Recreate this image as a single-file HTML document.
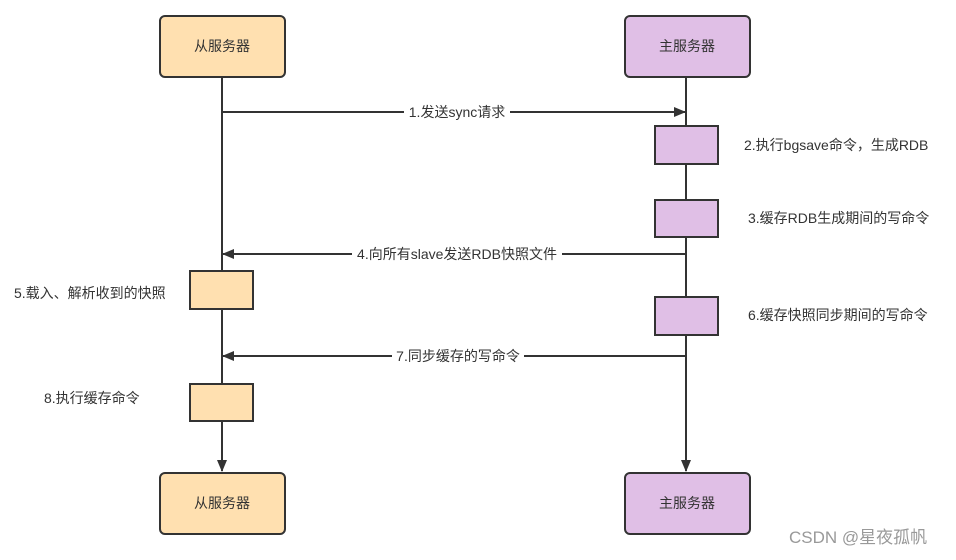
<!DOCTYPE html>
<html><head><meta charset="utf-8"><style>
body{margin:0;background:#fff;width:956px;height:555px;overflow:hidden}
svg text{font-family:"Liberation Sans","Noto Sans CJK SC",sans-serif;font-size:14px;fill:#333}
</style></head><body>
<svg width="956" height="555" xmlns="http://www.w3.org/2000/svg">
<defs><marker id="a" markerWidth="12" markerHeight="10" refX="11" refY="5" orient="auto" markerUnits="userSpaceOnUse"><path d="M0,0 L12,5 L0,10 z" fill="#333"/></marker></defs>
<g stroke="#333" stroke-width="2" fill="none">
<line x1="222" y1="77" x2="222" y2="471" marker-end="url(#a)"/>
<line x1="686" y1="77" x2="686" y2="471" marker-end="url(#a)"/>
<line x1="222" y1="112" x2="685" y2="112" marker-end="url(#a)"/>
<line x1="686" y1="254" x2="223" y2="254" marker-end="url(#a)"/>
<line x1="686" y1="356" x2="223" y2="356" marker-end="url(#a)"/>
</g>
<g stroke="#333" stroke-width="2">
<rect x="160" y="16" width="125" height="61" rx="5" fill="#ffe0b0"/>
<rect x="625" y="16" width="125" height="61" rx="5" fill="#e0bfe6"/>
<rect x="160" y="473" width="125" height="61" rx="5" fill="#ffe0b0"/>
<rect x="625" y="473" width="125" height="61" rx="5" fill="#e0bfe6"/>
<rect x="655" y="126" width="63" height="38" fill="#e0bfe6"/>
<rect x="655" y="200" width="63" height="37" fill="#e0bfe6"/>
<rect x="655" y="297" width="63" height="38" fill="#e0bfe6"/>
<rect x="190" y="271" width="63" height="38" fill="#ffe0b0"/>
<rect x="190" y="384" width="63" height="37" fill="#ffe0b0"/>
</g>
<g text-anchor="middle">
<text x="222" y="51">从服务器</text><text x="687" y="51">主服务器</text>
<text x="222" y="508">从服务器</text><text x="687" y="508">主服务器</text>
<rect x="404" y="103" width="106" height="18" fill="#fff"/><text x="457" y="117">1.发送sync请求</text>
<rect x="352" y="245" width="210" height="18" fill="#fff"/><text x="457" y="259">4.向所有slave发送RDB快照文件</text>
<rect x="392" y="347" width="132" height="18" fill="#fff"/><text x="458" y="361">7.同步缓存的写命令</text>
</g>
<text x="744" y="150">2.执行bgsave命令，生成RDB</text>
<text x="748" y="223">3.缓存RDB生成期间的写命令</text>
<text x="748" y="320">6.缓存快照同步期间的写命令</text>
<text x="14" y="298">5.载入、解析收到的快照</text>
<text x="44" y="403">8.执行缓存命令</text>
<text x="789" y="543" style="font-size:17px;fill:#999">CSDN @星夜孤帆</text>
</svg>
</body></html>
